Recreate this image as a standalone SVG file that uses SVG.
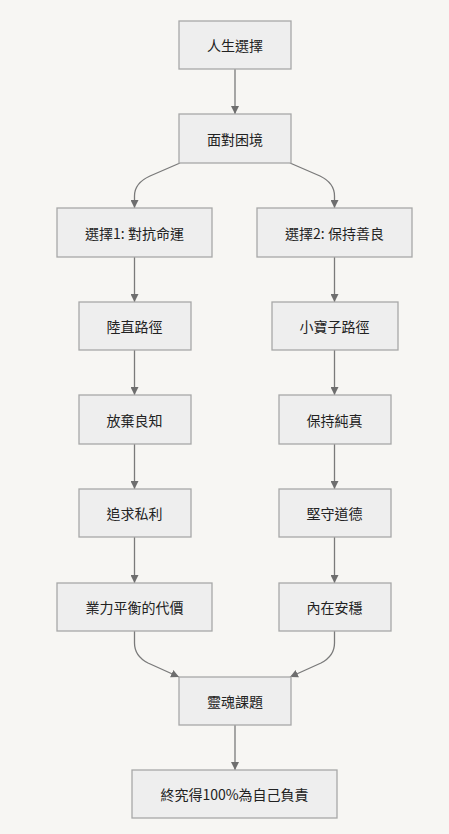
<svg xmlns="http://www.w3.org/2000/svg" width="449" height="834" viewBox="0 0 449 834">
<style>
.n rect{fill:#eeeeee;stroke:#a8a8a8;stroke-width:1.3}
.n text{font-family:"Noto Sans CJK TC","Noto Sans CJK SC",sans-serif;font-size:14px;fill:#222;text-anchor:middle;dominant-baseline:central}
.e path{fill:none;stroke:#7a7a7a;stroke-width:1.3}
</style>
<defs>
<marker id="a" viewBox="0 0 10 10" refX="10" refY="5" markerWidth="8" markerHeight="8" markerUnits="userSpaceOnUse" orient="auto">
<path d="M0,0 L10,5 L0,10 z" fill="#6e6e6e"/>
</marker>
</defs>
<rect width="449" height="834" fill="#f7f6f3"/>
<g class="e">
<path d="M235,69 L235,114" marker-end="url(#a)"/>
<path d="M180,163 L150,176 Q134.5,183 134.5,196 L134.5,208" marker-end="url(#a)"/>
<path d="M290,163 L320,176 Q334.5,183 334.5,196 L334.5,208" marker-end="url(#a)"/>
<path d="M134.5,257 L134.5,302" marker-end="url(#a)"/>
<path d="M334.5,257 L334.5,302" marker-end="url(#a)"/>
<path d="M134.5,350 L134.5,395" marker-end="url(#a)"/>
<path d="M334.5,350 L334.5,395" marker-end="url(#a)"/>
<path d="M134.5,444 L134.5,489" marker-end="url(#a)"/>
<path d="M334.5,444 L334.5,489" marker-end="url(#a)"/>
<path d="M134.5,537 L134.5,583" marker-end="url(#a)"/>
<path d="M334.5,537 L334.5,583" marker-end="url(#a)"/>
<path d="M134.5,631 L134.5,643 Q134.5,656 148,663 L179,677" marker-end="url(#a)"/>
<path d="M334.5,631 L334.5,643 Q334.5,656 321,663 L290,677" marker-end="url(#a)"/>
<path d="M235,725 L235,770" marker-end="url(#a)"/>
</g>
<g id="n1" class="n"><rect x="179" y="21" width="112" height="48"/><text x="235" y="45">人生選擇</text></g>
<g id="n2" class="n"><rect x="179" y="114" width="112" height="49"/><text x="235" y="138.5">面對困境</text></g>
<g id="n3" class="n"><rect x="57" y="208" width="155" height="49"/><text x="134.5" y="232.5">選擇1: 對抗命運</text></g>
<g id="n4" class="n"><rect x="257" y="208" width="155" height="49"/><text x="334.5" y="232.5">選擇2: 保持善良</text></g>
<g id="n5" class="n"><rect x="79" y="302" width="112" height="48"/><text x="134.5" y="326">陸直路徑</text></g>
<g id="n6" class="n"><rect x="272" y="302" width="126" height="48"/><text x="334.5" y="326">小寶子路徑</text></g>
<g id="n7" class="n"><rect x="79" y="395" width="112" height="49"/><text x="134.5" y="419.5">放棄良知</text></g>
<g id="n8" class="n"><rect x="279" y="395" width="112" height="49"/><text x="334.5" y="419.5">保持純真</text></g>
<g id="n9" class="n"><rect x="79" y="489" width="112" height="48"/><text x="134.5" y="513">追求私利</text></g>
<g id="n10" class="n"><rect x="279" y="489" width="112" height="48"/><text x="334.5" y="513">堅守道德</text></g>
<g id="n11" class="n"><rect x="57" y="583" width="155" height="48"/><text x="134.5" y="607">業力平衡的代價</text></g>
<g id="n12" class="n"><rect x="279" y="583" width="112" height="48"/><text x="334.5" y="607">內在安穩</text></g>
<g id="n13" class="n"><rect x="179" y="677" width="112" height="48"/><text x="235" y="701">靈魂課題</text></g>
<g id="n14" class="n"><rect x="132" y="770" width="205" height="48"/><text x="234.5" y="794">終究得100%為自己負責</text></g>
</svg>
